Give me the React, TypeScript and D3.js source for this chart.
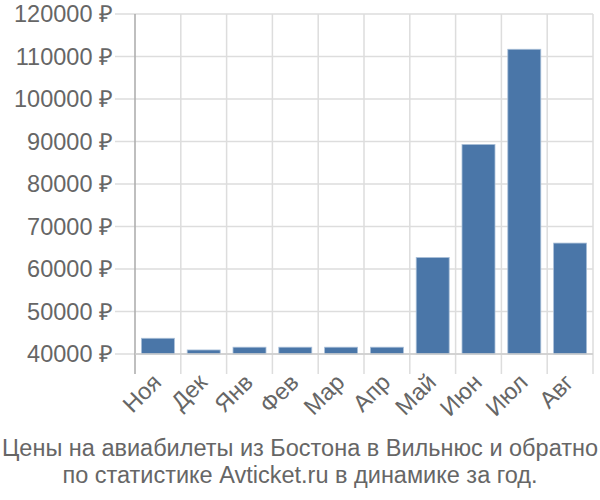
import React from "react";
import * as d3 from "d3";

const categories = ["Ноя", "Дек", "Янв", "Фев", "Мар", "Апр", "Май", "Июн", "Июл", "Авг"];
const values = [43700, 40950, 41600, 41600, 41600, 41600, 62700, 89300, 111700, 66100];
const yTicks = [40000, 50000, 60000, 70000, 80000, 90000, 100000, 110000, 120000];
const titleLines = [
  "Цены на авиабилеты из Бостона в Вильнюс и обратно",
  "по статистике Avticket.ru в динамике за год.",
];

export default function App() {
  const W = 600, H = 500;
  const left = 135, right = 593, top = 14, bottom = 354;
  const x = d3.scaleBand<string>().domain(categories).range([left, right]).paddingInner(0.28).paddingOuter(0.14);
  const step = (right - left) / categories.length;
  const y = d3.scaleLinear().domain([40000, 120000]).range([bottom, top]);
  const font = "'Liberation Sans', Arial, sans-serif";
  const textColor = "#666";
  const fs = 23.5;
  return (
    <svg width={W} height={H} style={{ position: "absolute", left: 0, top: 0 }}>
      <rect width={W} height={H} fill="#fff" />
      {yTicks.map((t) => (
        <g key={t}>
          <line x1={115} x2={right} y1={y(t)} y2={y(t)} stroke="#ddd" strokeWidth={1.5} />
          <text x={113} y={y(t)} dy="0.35em" textAnchor="end" fontFamily={font} fontSize={fs} fill={textColor}>
            {d3.format("d")(t)} ₽
          </text>
        </g>
      ))}
      {categories.map((c, i) => (
        <line key={c} x1={left + step * (i + 1)} x2={left + step * (i + 1)} y1={top} y2={374} stroke="#ddd" strokeWidth={1.5} />
      ))}
      <line x1={left} x2={left} y1={top} y2={374} stroke="#aaa" strokeWidth={1.5} />
      {categories.map((c, i) => (
        <rect key={c} x={x(c)} y={y(values[i])} width={x.bandwidth()} height={bottom - y(values[i])}
          fill="#4a76a8" stroke="#a9bfd8" strokeWidth={0.8} />
      ))}
      <line x1={left} x2={right} y1={bottom} y2={bottom} stroke="#ccc" strokeWidth={1.5} />
      {categories.map((c, i) => {
        const cx = left + step * (i + 0.5) - 1;
        return (
          <text key={c} transform={`translate(${cx},${378}) rotate(-45)`} textAnchor="end" dy="0.35em"
            fontFamily={font} fontSize={fs} fill={textColor}>
            {c}
          </text>
        );
      })}
      {titleLines.map((l, i) => (
        <text key={i} x={W / 2} y={456 + i * 27} textAnchor="middle" fontFamily={font} fontSize={fs} fill={textColor}>
          {l}
        </text>
      ))}
    </svg>
  );
}
